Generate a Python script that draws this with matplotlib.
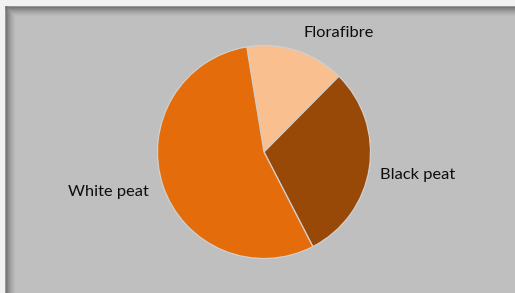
import numpy as np
import matplotlib
matplotlib.use("Agg")
import matplotlib.pyplot as plt

labels = ["Florafibre", "Black peat", "White peat"]
values = [15, 30, 55]
colors = ["#F9BF8F", "#984807", "#E46C0A"]

W, H = 515, 293
fig = plt.figure(figsize=(W / 100, H / 100), dpi=100)
fig.patch.set_facecolor("#F2F2F2")

# background panel with inner shadow
bg = fig.add_axes([0, 0, 1, 1])
bg.set_axis_off()
img = np.full((H, W, 3), 0xF2 / 255.0)
base = 0xBF / 255.0
yy, xx = np.mgrid[0:H, 0:W]
dx = xx - 5
dy = yy - 6
inside = (dx >= 0) & (dy >= 0)
def shade(d):
    s = np.clip(1 - (d - 1) / 10.0, 0, 1) ** 1.6 * 0.28
    s = np.where(d == 0, 0.15, s)
    return s
sh = np.maximum(shade(dx), shade(dy))
val = base - sh
img[inside] = np.stack([val, val, val], axis=-1)[inside]
bg.imshow(img, extent=[0, W, 0, H], origin="upper", aspect="auto", interpolation="nearest")
bg.set_xlim(0, W)
bg.set_ylim(0, H)

cx, cy, r = 264, 152, 106.5
ax = fig.add_axes([(cx - r) / W, (H - cy - r) / H, 2 * r / W, 2 * r / H])
ax.set_facecolor("none")
wedges, texts = ax.pie(values, labels=labels, colors=colors, startangle=99.3,
                       counterclock=False, labeldistance=1.1,
                       wedgeprops=dict(edgecolor="#D0D0D0", linewidth=0.9),
                       textprops=dict(fontsize=11.8, family="Lato", color="#0D0D0D"))
x0, y0 = texts[0].get_position()
texts[0].set_position((x0 + 0.04, y0))
texts[0].set_va("bottom")
texts[0].set_ha("left")
texts[1].set_va("top")
texts[1].set_y(texts[1].get_position()[1] + 0.02)
x2, y2 = texts[2].get_position()
texts[2].set_position((x2 - 0.035, y2 - 0.03))
ax.set_xlim(-1, 1)
ax.set_ylim(-1, 1)
ax.set_aspect("equal")

fig.savefig("out.png", dpi=100, facecolor=fig.get_facecolor())
